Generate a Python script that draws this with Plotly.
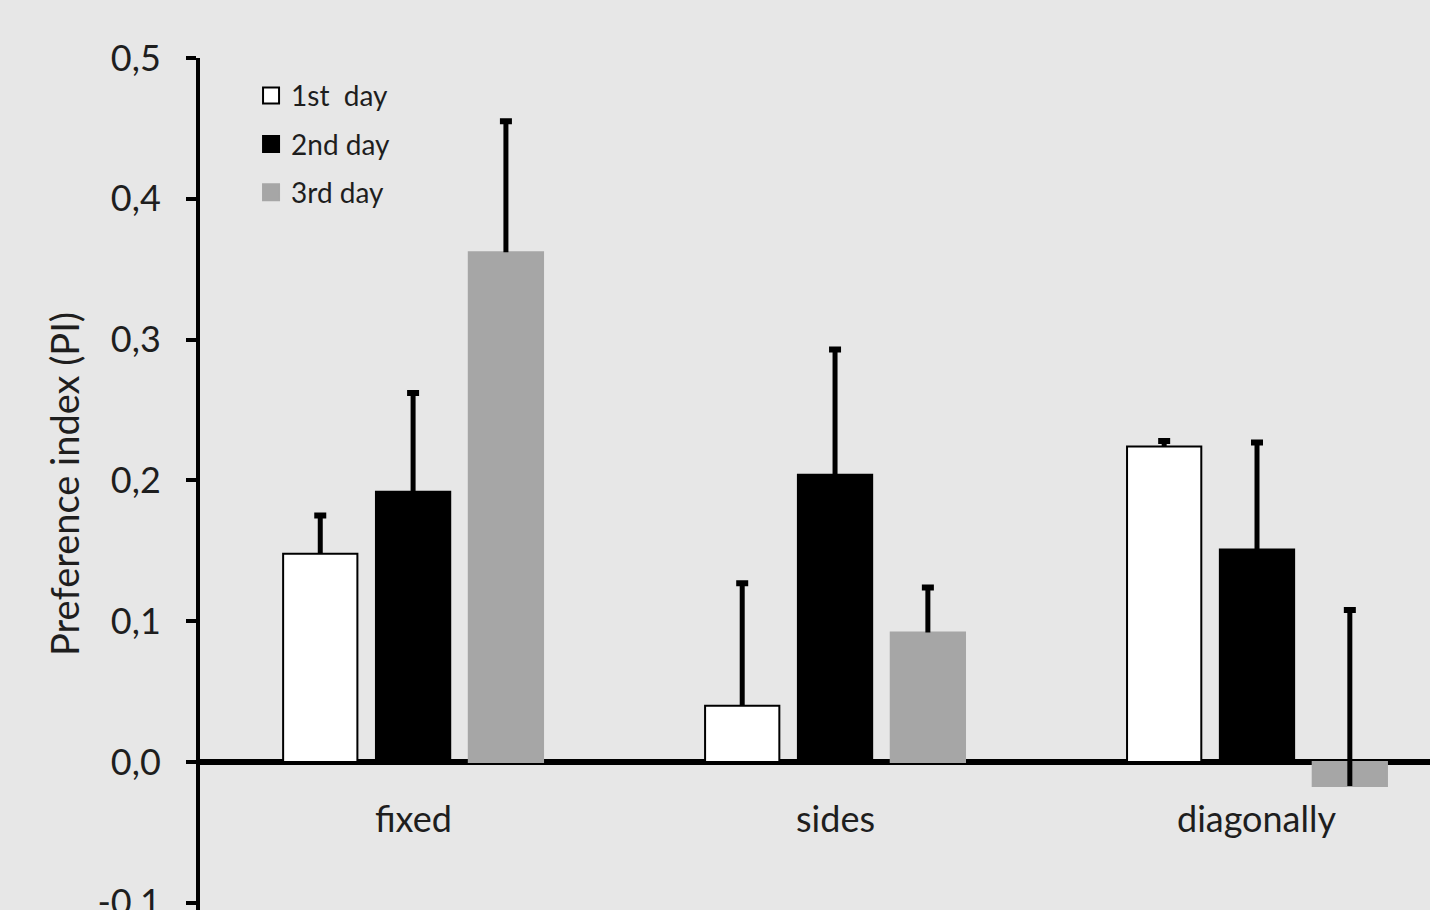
import plotly.graph_objects as go

categories = ["fixed", "sides", "diagonally"]
series_names = ["1st  day", "2nd day", "3rd day"]
day1 = [0.148, 0.040, 0.224]
day2 = [0.192, 0.204, 0.151]
day3 = [0.362, 0.092, -0.017]
err1 = [0.027, 0.087, 0.004]
err2 = [0.070, 0.089, 0.076]
err3 = [0.093, 0.032, 0.125]
tick_vals = [-0.1, 0.0, 0.1, 0.2, 0.3, 0.4, 0.5]
tick_text = ["-0,1", "0,0", "0,1", "0,2", "0,3", "0,4", "0,5"]

FONT = "Lato"
BG = "#e7e7e7"
TXT = "#1e1e1e"
fills = ["#ffffff", "#000000", "#a6a6a6"]
lines = ["#000000", "#000000", "#a6a6a6"]
CLEAR = "rgba(0,0,0,0)"

fig = go.Figure()
for i, (name, vals, errs, fc, lc) in enumerate(zip(series_names, [day1, day2, day3], [err1, err2, err3], fills, lines)):
    grp = f"s{i}"
    # main bar
    fig.add_trace(go.Bar(
        x=categories, y=vals, name=name, showlegend=False, offsetgroup=grp,
        marker=dict(color=fc, line=dict(color=lc, width=2)), hoverinfo="skip",
    ))
    # error stem (no caps)
    fig.add_trace(go.Bar(
        x=categories, y=vals, showlegend=False, offsetgroup=grp,
        marker=dict(color=CLEAR, line=dict(width=0)), hoverinfo="skip",
        error_y=dict(type="data", array=errs, arrayminus=[0] * len(errs), symmetric=False,
                     color="#000000", thickness=5, width=0),
    ))
    # error cap only at the top
    tops = [v + e for v, e in zip(vals, errs)]
    fig.add_trace(go.Bar(
        x=categories, y=tops, showlegend=False, offsetgroup=grp,
        marker=dict(color=CLEAR, line=dict(width=0)), hoverinfo="skip",
        error_y=dict(type="data", array=[0] * len(errs), symmetric=True,
                     color="#000000", thickness=6, width=6),
    ))

for i, (name, fc, lc) in enumerate(zip(series_names, fills, lines)):
    fig.add_trace(go.Scatter(
        x=[None], y=[None], mode="markers", name=name, legendgroup=f"g{i}",
        marker=dict(symbol="square", size=17, color=fc, line=dict(color=lc if i == 0 else fc, width=2)),
    ))

for c in categories:
    fig.add_annotation(x=c, y=-0.04, xref="x", yref="y", text=c, showarrow=False,
                       font=dict(family=FONT, size=36, color=TXT), yanchor="middle")

fig.update_layout(
    width=1430, height=910,
    paper_bgcolor=BG, plot_bgcolor=BG,
    margin=dict(l=200, r=0, t=58, b=0),
    barmode="group", bargap=0.34, bargroupgap=0.2,
    font=dict(family=FONT, color=TXT),
    showlegend=True,
    legend=dict(x=0.0415, y=0.985, xanchor="left", yanchor="top", bgcolor="rgba(0,0,0,0)",
                font=dict(family=FONT, size=28, color=TXT), tracegroupgap=9,
                traceorder="grouped", itemwidth=30),
    xaxis=dict(type="category", range=[-0.505, 2.41], showline=False, showticklabels=False,
               ticks="", showgrid=False, zeroline=False, fixedrange=True),
    yaxis=dict(range=[-0.1051, 0.5], tickvals=tick_vals, ticktext=tick_text, automargin=False,
               showline=True, linecolor="#000000", linewidth=4, layer="above traces",
               ticks="outside", ticklen=10, tickwidth=4, tickcolor="#000000",
               ticklabelstandoff=18, ticklabeloverflow="allow",
               tickfont=dict(family=FONT, size=36, color=TXT),
               showgrid=False, zeroline=True, zerolinecolor="#000000", zerolinewidth=6,
               title=dict(text="Preference index (PI)", font=dict(family=FONT, size=38, color=TXT), standoff=7)),
)

fig.write_html("out.html", config={"displayModeBar": False},
               post_script="document.body.style.margin='0';document.body.style.background='#e7e7e7';")
